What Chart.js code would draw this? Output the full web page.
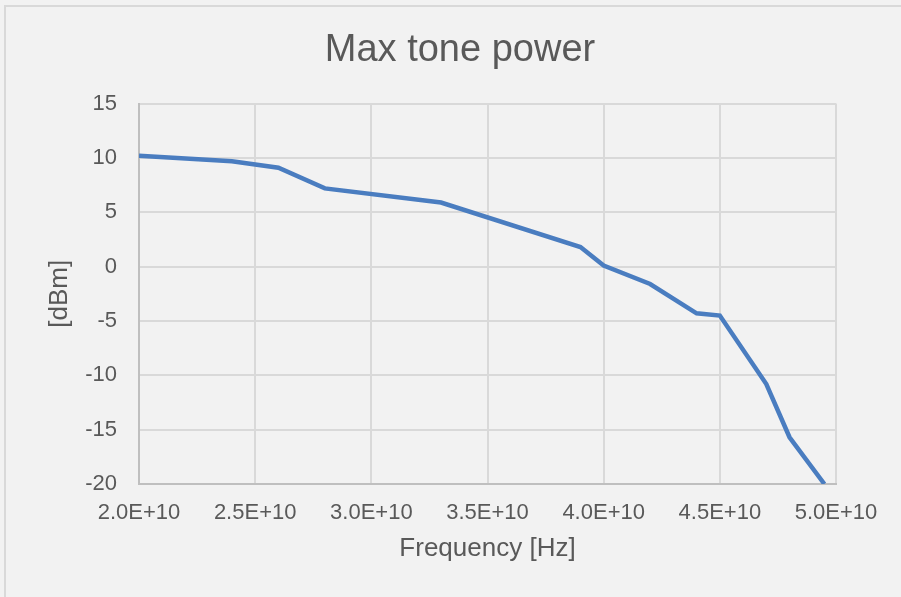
<!DOCTYPE html>
<html>
<head>
<meta charset="utf-8">
<script src="https://cdn.jsdelivr.net/npm/chart.js@4"></script>
<style>
  html, body { margin: 0; padding: 0; background: #f2f2f2; }
  #frame { position: absolute; left: 4px; top: 5px; width: 910px; height: 600px;
           border-top: 2px solid #d9d9d9; border-left: 2px solid #d9d9d9; box-sizing: border-box; }
  #wrap { position: absolute; left: 0; top: 0; width: 901px; height: 597px; }
</style>
</head>
<body>
<div id="frame"></div>
<div id="wrap"><canvas id="c" width="901" height="597"></canvas></div>
<script>
const chartTitle = "Max tone power";
const xAxisTitle = "Frequency [Hz]";
const yAxisTitle = "[dBm]";
const frequencies = [2.0e10, 2.4e10, 2.6e10, 2.8e10, 3.3e10, 3.9e10, 4.0e10, 4.2e10, 4.4e10, 4.5e10, 4.7e10, 4.8e10, 4.95e10];
const powerDbm    = [10.2, 9.7, 9.1, 7.2, 5.9, 1.8, 0.1, -1.6, -4.3, -4.5, -10.8, -15.7, -20.0];
const xMin = 2.0e10, xMax = 5.0e10, xStep = 5e9;
const yMin = -20, yMax = 15, yStep = 5;

const FONT = "'Liberation Sans', Arial, sans-serif";
const TEXT = "#595959";

new Chart(document.getElementById('c'), {
  type: 'line',
  data: {
    datasets: [{
      data: frequencies.map((f, i) => ({ x: f, y: powerDbm[i] })),
      borderColor: '#4a7dc0',
      borderWidth: 4.5,
      pointRadius: 0,
      tension: 0,
      fill: false
    }]
  },
  options: {
    responsive: false,
    animation: false,
    layout: { padding: { left: 19, right: 0, top: 0, bottom: 0 } },
    plugins: {
      legend: { display: false },
      tooltip: { enabled: false },
      title: {
        display: true,
        text: chartTitle,
        color: TEXT,
        font: { family: FONT, size: 38, weight: 'normal' },
        padding: { top: 28, bottom: 30 }
      }
    },
    scales: {
      x: {
        type: 'linear',
        min: xMin, max: xMax,
        afterFit: s => { s.height = 113; },
        ticks: {
          stepSize: xStep,
          color: TEXT,
          padding: 16,
          maxRotation: 0,
          font: { family: FONT, size: 22 },
          callback: v => Number(v).toExponential(1).toUpperCase()
        },
        grid: { color: '#d9d9d9', lineWidth: 2, drawTicks: false },
        border: { color: '#bfbfbf', width: 2 },
        title: {
          display: true, text: xAxisTitle, color: TEXT,
          font: { family: FONT, size: 26 },
          padding: { top: 0, bottom: 33 }
        }
      },
      y: {
        min: yMin, max: yMax,
        afterFit: s => { s.width = 120; },
        ticks: {
          stepSize: yStep,
          color: TEXT,
          padding: 22,
          font: { family: FONT, size: 22 }
        },
        grid: { color: '#d9d9d9', lineWidth: 2, drawTicks: false },
        border: { color: '#bfbfbf', width: 2 },
        title: {
          display: true, text: yAxisTitle, color: TEXT,
          font: { family: FONT, size: 26 },
          padding: { top: 25, bottom: 0 }
        }
      },
      yRightSpace: {
        type: 'linear',
        position: 'right',
        min: yMin, max: yMax,
        afterFit: s => { s.width = 65; },
        ticks: { display: false },
        grid: { display: false, drawTicks: false },
        border: { display: false }
      }
    }
  }
});
</script>
</body>
</html>
